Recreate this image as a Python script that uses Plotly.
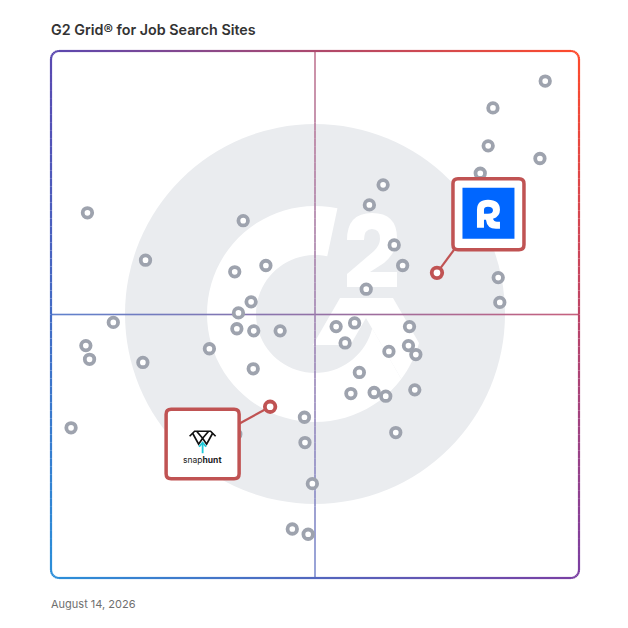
import math
import plotly.graph_objects as go

# ---------------- data (0-100 scores: x = satisfaction, y = market presence) ----------------
satisfaction = [93.6, 83.7, 82.8, 92.6, 81.3, 62.9, 60.3, 6.9, 36.4, 65.0,
                17.9, 40.7, 34.8, 66.6, 84.7, 59.7, 85.0, 37.9, 35.5, 11.8,
                35.2, 38.4, 43.4, 54.0, 57.5, 67.9, 55.7, 6.6, 30.0, 64.0,
                67.7, 69.1, 7.3, 17.4, 38.3, 58.4, 68.9, 56.8, 61.2, 63.4,
                48.0, 3.8, 65.3, 48.1, 49.5, 45.7, 48.7, 35.0]
market_presence = [94.3, 89.2, 82.0, 79.6, 76.8, 74.6, 70.8, 69.3, 67.8, 63.2,
                   60.3, 59.3, 58.1, 59.3, 57.0, 54.8, 52.3, 52.4, 50.3, 48.5,
                   47.3, 46.9, 46.9, 47.7, 48.4, 47.7, 44.6, 44.1, 43.5, 43.0,
                   44.1, 42.4, 41.5, 40.9, 39.7, 39.0, 35.7, 35.0, 35.2, 34.5,
                   30.5, 28.5, 27.6, 25.7, 17.9, 9.3, 8.3, 27.3]
highlight_names = ["R", "Snaphunt"]
highlight_sat = [73.1, 41.5]
highlight_mp = [57.9, 32.5]

title_text = "G2 Grid® for Job Search Sites"
date_text = "August 14, 2026"

# ---------------- geometry helpers (page pixel -> paper) ----------------
OFF = 8                      # page body margin
W, H = 620, 620
L, R, T, B = 51, 579, 51, 578  # plot area in page pixels


def fx(px):
    return (px - L) / (R - L)


def fy(py):
    return (B - py) / (B - T)


def to_px_x(v):
    return L + v / 100 * (R - L)


def to_px_y(v):
    return B - v / 100 * (B - T)


def P(x, y):
    return f"{fx(x):.5f},{fy(y):.5f}"


def path(points, close=True):
    s = "M " + " L ".join(P(x, y) for x, y in points)
    return s + (" Z" if close else "")


def hexc(c):
    return "#%02x%02x%02x" % tuple(int(round(v)) for v in c)


TLc, TRc, BLc, BRc = (90, 72, 176), (255, 74, 43), (43, 143, 217), (122, 63, 163)


def field(px, py, alpha=1.0):
    u = min(max((px - L) / (R - L), 0), 1)
    v = min(max((py - T) / (B - T), 0), 1)
    c = [(1 - u) * (1 - v) * a + u * (1 - v) * b + (1 - u) * v * c_ + u * v * d
         for a, b, c_, d in zip(TLc, TRc, BLc, BRc)]
    c = [255 * (1 - alpha) + alpha * x for x in c]
    return hexc(c)


shapes = []

# ---------------- G2 watermark ----------------
CX, CY = 315, 314
GRAY = "#eaecef"
shapes.append(dict(type="circle", xref="paper", yref="paper", layer="below",
                   x0=fx(CX - 190), x1=fx(CX + 190), y0=fy(CY + 190), y1=fy(CY - 190),
                   fillcolor=GRAY, line=dict(width=0)))
r_in, r_out = 59, 108


def circ(r, a):
    return (CX + r * math.cos(math.radians(a)), CY - r * math.sin(math.radians(a)))


def arcpts(r, a0, a1, k=60):
    return [circ(r, a0 + (a1 - a0) * i / k) for i in range(k + 1)]


ring = arcpts(r_out, 78, 323) + arcpts(r_in, 345.7, 78)
shapes.append(dict(type="path", xref="paper", yref="paper", layer="below",
                   path=path(ring), fillcolor="white", line=dict(width=0)))
chev = ([(393, 298)] + arcpts(r_out, 344.4, 323, 12) +
        [(366, 318), (350.4, 345), (312.9, 345), (340, 298)])
shapes.append(dict(type="path", xref="paper", yref="paper", layer="below",
                   path=path(chev), fillcolor="white", line=dict(width=0)))

two = [("M", [(347, 240)]), ("Q", [(347, 213), (372, 213)]), ("Q", [(397, 213), (397, 238)]),
       ("Q", [(397, 252), (384, 263)]), ("L", [(370, 272)]), ("L", [(397, 272)]),
       ("L", [(397, 287)]), ("L", [(347, 287)]), ("L", [(347, 274)]), ("L", [(374, 251)]),
       ("Q", [(380, 245), (380, 239)]), ("Q", [(380, 229), (372, 229)]),
       ("Q", [(364, 229), (364, 240)])]


def cmdpath(cmds):
    return " ".join(c + " ".join(P(x, y) for x, y in pts) for c, pts in cmds) + " Z"


shapes.append(dict(type="path", xref="paper", yref="paper", layer="below",
                   path=cmdpath(two), fillcolor="white", line=dict(width=0)))

# ---------------- quadrant lines (gradient) ----------------
mid_y = (T + B) / 2
mid_x = (L + R) / 2
n = 66
for i in range(n):
    x0 = L + (R - L) * i / n
    x1 = L + (R - L) * (i + 1) / n
    shapes.append(dict(type="line", xref="paper", yref="paper", layer="below",
                       x0=fx(x0), x1=fx(x1), y0=fy(mid_y), y1=fy(mid_y),
                       line=dict(color=field((x0 + x1) / 2, mid_y, 0.85), width=1.6)))
    y0 = T + (B - T) * i / n
    y1 = T + (B - T) * (i + 1) / n
    shapes.append(dict(type="line", xref="paper", yref="paper", layer="below",
                       x0=fx(mid_x), x1=fx(mid_x), y0=fy(y0), y1=fy(y1),
                       line=dict(color=field(mid_x, (y0 + y1) / 2, 0.75), width=1.6)))

# ---------------- connectors ----------------
rx, ry = to_px_x(highlight_sat[0]), to_px_y(highlight_mp[0])
sx, sy = to_px_x(highlight_sat[1]), to_px_y(highlight_mp[1])
RED = "#c05353"
shapes.append(dict(type="line", xref="paper", yref="paper", layer="below",
                   x0=fx(rx), y0=fy(ry), x1=fx(rx + 17), y1=fy(ry - 23),
                   line=dict(color=RED, width=2.2)))
shapes.append(dict(type="line", xref="paper", yref="paper", layer="below",
                   x0=fx(sx), y0=fy(sy), x1=fx(sx - 31), y1=fy(sy + 17),
                   line=dict(color=RED, width=2.2)))


# ---------------- rounded boxes ----------------
def rbox(x0, y0, x1, y1, r):
    return cmdpath([("M", [(x0 + r, y0)]), ("L", [(x1 - r, y0)]), ("Q", [(x1, y0), (x1, y0 + r)]),
                    ("L", [(x1, y1 - r)]), ("Q", [(x1, y1), (x1 - r, y1)]), ("L", [(x0 + r, y1)]),
                    ("Q", [(x0, y1), (x0, y1 - r)]), ("L", [(x0, y0 + r)]),
                    ("Q", [(x0, y0), (x0 + r, y0)])])


# R box (relative to its point)
bx0, by0, bx1, by1 = rx + 16, ry - 94, rx + 87, ry - 23
shapes.append(dict(type="path", xref="paper", yref="paper", layer="above",
                   path=rbox(bx0, by0, bx1, by1, 5), fillcolor="white",
                   line=dict(color=RED, width=3.5)))
shapes.append(dict(type="rect", xref="paper", yref="paper", layer="above",
                   x0=fx(bx0 + 9.5), x1=fx(bx0 + 61.5), y0=fy(by0 + 60), y1=fy(by0 + 9),
                   fillcolor="#0066ff", line=dict(width=0)))
# rounded "R" glyph (relative to blue square)
gx, gy = bx0 + 24, by0 + 21


def g(x, y):
    return (gx + x, gy + y)


rglyph = [("M", [g(0, 28)]), ("L", [g(0, 10)]), ("Q", [g(0, 0), g(11, 0)]),
          ("Q", [g(23, 0), g(23, 10)]), ("Q", [g(23, 17), g(16, 19)]),
          ("Q", [g(17, 22), g(20, 22)]), ("L", [g(23, 22)]), ("L", [g(23, 29)]),
          ("L", [g(19, 29)]), ("Q", [g(10, 29), g(9, 20)]), ("L", [g(7, 20)]), ("L", [g(7, 28)])]
rhole = [("M", [g(7, 14)]), ("L", [g(11, 14)]), ("Q", [g(16, 14), g(16, 10.5)]),
         ("Q", [g(16, 7), g(11, 7)]), ("Q", [g(7, 7), g(7, 10)])]
shapes.append(dict(type="path", xref="paper", yref="paper", layer="above",
                   path=cmdpath(rglyph) + " " + cmdpath(rhole), fillcolor="white",
                   line=dict(width=0)))

# Snaphunt box
sbx0, sby0, sbx1, sby1 = sx - 104, sy + 2.5, sx - 31, sy + 72
shapes.append(dict(type="path", xref="paper", yref="paper", layer="above",
                   path=rbox(sbx0, sby0, sbx1, sby1, 5), fillcolor="white",
                   line=dict(color=RED, width=3.5)))
icx = (sbx0 + sbx1) / 2
icy = sby0 + 22
icon = [[(icx - 13, icy + 5), (icx - 8, icy), (icx + 8, icy), (icx + 13, icy + 5)],
        [(icx - 10, icy + 2), (icx - 4, icy + 13), (icx, icy + 7), (icx + 4, icy + 13), (icx + 10, icy + 2)],
        [(icx - 6, icy), (icx, icy + 7), (icx + 6, icy)]]
for seg in icon:
    shapes.append(dict(type="path", xref="paper", yref="paper", layer="above",
                       path=path(seg, close=False), line=dict(color="#111111", width=1.7)))
shapes.append(dict(type="path", xref="paper", yref="paper", layer="above",
                   path=path([(icx, icy + 22), (icx, icy + 12)], close=False),
                   line=dict(color="#1ec8d8", width=1.8)))
shapes.append(dict(type="path", xref="paper", yref="paper", layer="above",
                   path=path([(icx - 3.5, icy + 15.5), (icx, icy + 11.5), (icx + 3.5, icy + 15.5)], close=False),
                   line=dict(color="#1ec8d8", width=1.8)))

# ---------------- gradient border (rounded) ----------------
rad = 8
pts = []


def arc(cx, cy, a0, a1, k=6):
    return [(cx + rad * math.cos(math.radians(a0 + (a1 - a0) * j / k)),
             cy - rad * math.sin(math.radians(a0 + (a1 - a0) * j / k))) for j in range(k + 1)]


def edge(p0, p1, k):
    return [(p0[0] + (p1[0] - p0[0]) * j / k, p0[1] + (p1[1] - p0[1]) * j / k) for j in range(k + 1)]


pts += edge((L + rad, T), (R - rad, T), 64)
pts += arc(R - rad, T + rad, 90, 0)
pts += edge((R, T + rad), (R, B - rad), 64)
pts += arc(R - rad, B - rad, 0, -90)
pts += edge((R - rad, B), (L + rad, B), 64)
pts += arc(L + rad, B - rad, 270, 180)
pts += edge((L, B - rad), (L, T + rad), 64)
pts += arc(L + rad, T + rad, 180, 90)
for (x0, y0), (x1, y1) in zip(pts[:-1], pts[1:]):
    if abs(x0 - x1) < 1e-9 and abs(y0 - y1) < 1e-9:
        continue
    shapes.append(dict(type="line", xref="paper", yref="paper", layer="above",
                       x0=fx(x0), x1=fx(x1), y0=fy(y0), y1=fy(y1),
                       line=dict(color=field((x0 + x1) / 2, (y0 + y1) / 2), width=2.2)))

# ---------------- figure ----------------
fig = go.Figure()
fig.add_trace(go.Scatter(x=satisfaction, y=market_presence, mode="markers",
                         marker=dict(size=9.5, color="white", line=dict(color="#9ea3ae", width=3.8)),
                         hoverinfo="skip", showlegend=False))
fig.add_trace(go.Scatter(x=highlight_sat, y=highlight_mp, mode="markers", text=highlight_names,
                         marker=dict(size=10.5, color="white", line=dict(color=RED, width=3.8)),
                         hoverinfo="text", showlegend=False))

annotations = [
    dict(text=title_text, xref="paper", yref="paper", x=fx(49), y=fy(29), xanchor="left", yanchor="middle",
         showarrow=False, font=dict(family="Inter", size=14.3, color="#333333", weight=600)),
    dict(text=date_text, xref="paper", yref="paper", x=fx(49), y=fy(604), xanchor="left", yanchor="middle",
         showarrow=False, font=dict(family="Inter", size=11, color="#6f6f6f")),
    dict(text="snap<b>hunt</b>", xref="paper", yref="paper", x=fx(icx), y=fy(icy + 29),
         xanchor="center", yanchor="middle", showarrow=False,
         font=dict(family="Inter", size=8.5, color="#222222")),
]

fig.update_layout(
    width=W, height=H,
    margin=dict(l=L - OFF, r=W - (R - OFF), t=T - OFF, b=H - (B - OFF)),
    paper_bgcolor="white", plot_bgcolor="white",
    xaxis=dict(range=[0, 100], visible=False, showgrid=False, zeroline=False, fixedrange=True),
    yaxis=dict(range=[0, 100], visible=False, showgrid=False, zeroline=False, fixedrange=True),
    shapes=shapes, annotations=annotations,
)

fig.write_html("out.html")
